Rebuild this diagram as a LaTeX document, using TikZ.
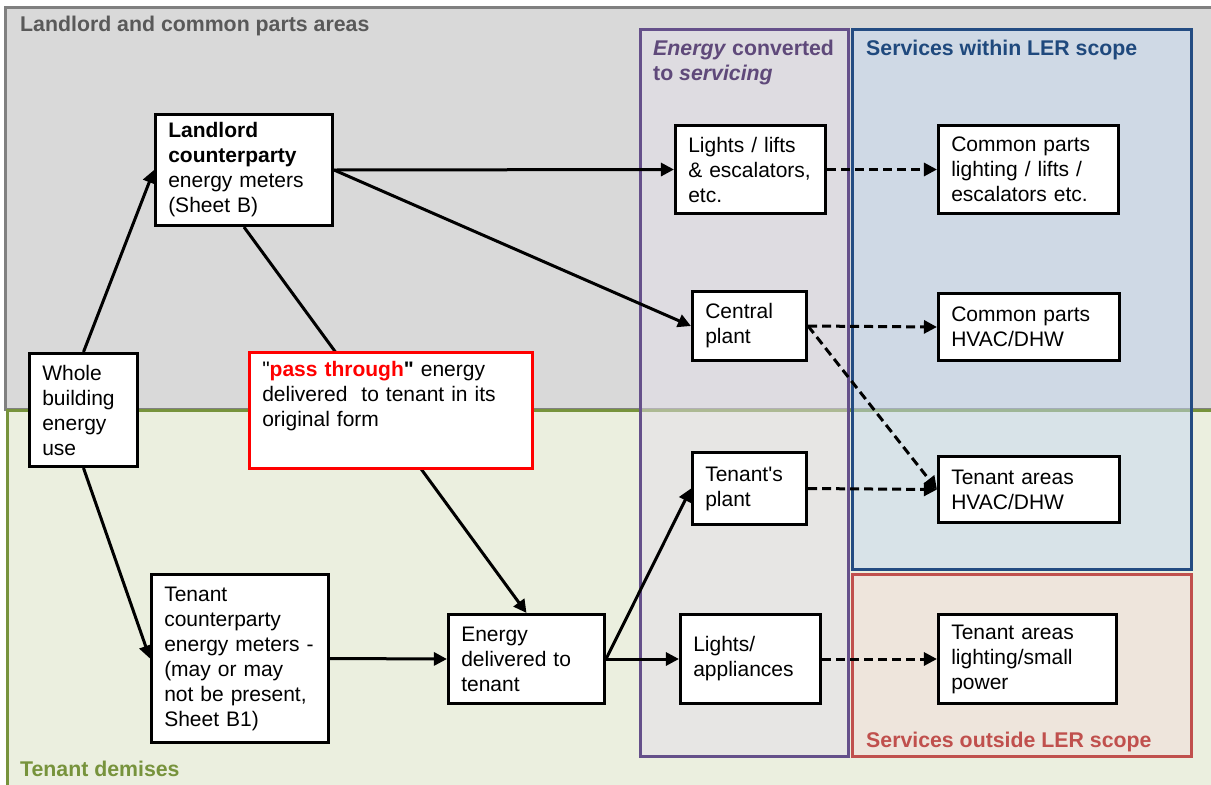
\documentclass[tikz,border=0pt]{standalone}
\usepackage{fontspec}
\setmainfont{Liberation Sans}
\usetikzlibrary{arrows.meta}
\definecolor{llfill}{HTML}{D9D9D9}
\definecolor{lldraw}{HTML}{808080}
\definecolor{tnfill}{HTML}{EBEFDF}
\definecolor{tndraw}{HTML}{77933C}
\definecolor{pufill}{HTML}{E4DFEA}
\definecolor{pudraw}{HTML}{65508A}
\definecolor{putext}{HTML}{5F497A}
\definecolor{blfill}{HTML}{C6D9F1}
\definecolor{bldraw}{HTML}{244C82}
\definecolor{bltext}{HTML}{1F497D}
\definecolor{rdfill}{HTML}{F2DCDB}
\definecolor{rddraw}{HTML}{C0504D}
\definecolor{hdgrey}{HTML}{595959}
\definecolor{passred}{HTML}{FF0000}
\begin{document}
\begin{tikzpicture}[x=1pt,y=-1pt,
  txt/.style={font=\fontsize{21}{25}\selectfont},
  hdr/.style={font=\fontsize{21.3}{25}\selectfont\bfseries, anchor=base west, inner sep=0pt, align=left},
  box/.style={txt, draw=black, line width=2.6pt, fill=white, align=left, inner xsep=13pt, inner ysep=2pt},
  conn/.style={line width=3pt, -{Triangle[length=13pt,width=13pt]}},
  dconn/.style={conn, dash pattern=on 9pt off 5pt},
]
\useasboundingbox (0,0) rectangle (1211,785);
\clip (0,0) rectangle (1211,785);
% areas
\path[fill=llfill, draw=lldraw, line width=3pt] (5,7) rectangle (1230,409);
\path[fill=tnfill, draw=tndraw, line width=3pt] (7,410) rectangle (1230,800);
\path[fill=pufill, fill opacity=0.5, draw=pudraw, line width=3pt] (640,29) rectangle (848,756);
\path[fill=blfill, fill opacity=0.5, draw=bldraw, line width=3pt] (852,29) rectangle (1191,569);
\path[fill=rdfill, fill opacity=0.5, draw=rddraw, line width=3pt] (852,574) rectangle (1191,756);
% headings
\node[hdr, text=hdgrey] (hll) at (20,31) {Landlord and common parts areas};
\node[hdr, text=tndraw] (htn) at (20,776) {Tenant demises};
\node[hdr, text=putext] (hpu) at (653,55) {\textit{Energy} converted};
\node[hdr, text=putext] (hpu2) at (653,80) {to \textit{servicing}};
\node[hdr, text=bltext] (hbl) at (866,55) {Services within LER scope};
\node[hdr, text=rddraw] (hrd) at (866,747) {Services outside LER scope};
% nodes
\node[box, text width=82.5pt, minimum height=113.5pt] (whole) at (83.5,410) {Whole\\building\\energy\\use};
\node[box, text width=151.5pt, minimum height=111.5pt] (landlord) at (244,170) {\textbf{Landlord}\\\textbf{counterparty}\\energy meters\\(Sheet B)};
\node[box, text width=151.5pt, minimum height=168.5pt] (tcp) at (240,658.5) {Tenant\\counterparty\\energy meters -\\(may or may\\not be present,\\Sheet B1)};
\node[box, text width=130.5pt, minimum height=89.5pt] (edt) at (526.5,659) {Energy\\delivered to\\tenant};
\node[box, text width=124.5pt, minimum height=88.5pt] (lll) at (750.5,169.5) {Lights / lifts\\\& escalators,\\etc.};
\node[box, text width=88.5pt, minimum height=69.5pt] (cp) at (749.5,326) {Central\\plant};
\node[box, text width=88.5pt, minimum height=72.5pt] (tp) at (749.5,488.5) {Tenant\textquotesingle s\\plant};
\node[box, text width=114.5pt, minimum height=89.5pt] (la) at (750.5,659) {Lights/\\appliances};
\node[box, text width=154.5pt, minimum height=88.5pt] (cpl) at (1028.5,169.5) {Common parts\\lighting / lifts /\\escalators etc.};
\node[box, text width=155.5pt, minimum height=67.5pt] (cph) at (1029,327) {Common parts\\HVAC/DHW};
\node[box, text width=155.5pt, minimum height=66.5pt] (tah) at (1029,489.5) {Tenant areas\\HVAC/DHW};
\node[box, text width=152.5pt, minimum height=89.5pt] (tal) at (1027.5,659) {Tenant areas\\lighting/small\\power};
% connectors
\draw[conn] (whole.north) -- (landlord.west);
\draw[conn] (whole.south) -- (tcp.west);
\draw[conn] (landlord.east) -- (lll.west);
\draw[conn] (landlord.east) -- (cp.west);
\draw[conn] (landlord.south) -- (edt.north);
\draw[conn] (tcp.east) -- (edt.west);
\draw[conn] (edt.east) -- (la.west);
\draw[conn] (edt.east) -- (tp.west);
\draw[dconn] (lll.east) -- (cpl.west);
\draw[dconn] (cp.east) -- (cph.west);
\draw[dconn] (cp.east) -- (tah.west);
\draw[dconn] (tp.east) -- (tah.west);
\draw[dconn] (la.east) -- (tal.west);
% pass-through box (drawn over the line)
\node[box, draw=passred, text width=257.5pt, minimum height=116.5pt] (pass) at (391,410.5) {\textquotedbl\textbf{\textcolor{passred}{pass through}\textquotedbl} energy\\delivered\ \ to tenant in its\\original form\\\strut};
\end{tikzpicture}
\end{document}
